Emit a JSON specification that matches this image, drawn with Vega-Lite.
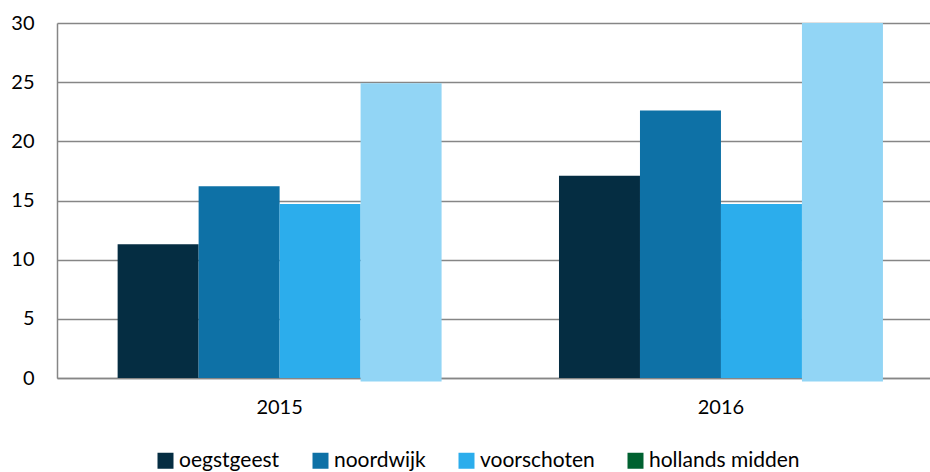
{
  "$schema": "https://vega.github.io/schema/vega-lite/v6.json",
  "width": 873,
  "height": 355,
  "autosize": {"type": "none"},
  "padding": {"left": 57, "top": 23, "right": 0, "bottom": 94},
  "background": "white",
  "config": {"view": {"stroke": null}, "font": "Lato"},
  "data": {
    "values": [
      {"year": "2015", "series": "oegstgeest", "value": 11.3, "base": 0},
      {"year": "2015", "series": "noordwijk", "value": 16.2, "base": 0},
      {"year": "2015", "series": "voorschoten", "value": 14.7, "base": 0},
      {"year": "2015", "series": "hollands midden", "value": 24.9, "base": -0.3},
      {"year": "2016", "series": "oegstgeest", "value": 17.1, "base": 0},
      {"year": "2016", "series": "noordwijk", "value": 22.6, "base": 0},
      {"year": "2016", "series": "voorschoten", "value": 14.7, "base": 0},
      {"year": "2016", "series": "hollands midden", "value": 30, "base": -0.3}
    ]
  },
  "encoding": {
    "x": {
      "field": "year",
      "type": "nominal",
      "scale": {"paddingInner": 0.266, "paddingOuter": 0.122, "align": 0.563},
      "axis": {
        "title": null,
        "labelAngle": 0,
        "ticks": false,
        "domainColor": "#868686",
        "domainWidth": 1.5,
        "labelFontSize": 20,
        "labelPadding": 19,
        "labelColor": "black"
      }
    },
    "xOffset": {
      "field": "series",
      "sort": ["oegstgeest", "noordwijk", "voorschoten", "hollands midden"],
      "scale": {"paddingInner": 0, "paddingOuter": 0}
    },
    "y": {
      "field": "value",
      "type": "quantitative",
      "scale": {"domain": [0, 30]},
      "axis": {
        "title": null,
        "values": [0, 5, 10, 15, 20, 25, 30],
        "grid": true,
        "gridColor": "#868686",
        "gridWidth": 1.5,
        "domain": true,
        "domainColor": "#868686",
        "domainWidth": 1.5,
        "ticks": false,
        "labelPadding": 23,
        "labelFontSize": 20,
        "labelColor": "black"
      }
    }
  },
  "layer": [
    {
      "mark": {"type": "bar"},
      "encoding": {
        "y2": {"field": "base"},
        "color": {
          "field": "series",
          "type": "nominal",
          "scale": {
            "domain": ["oegstgeest", "noordwijk", "voorschoten", "hollands midden"],
            "range": ["#052d42", "#0e71a6", "#2cadec", "#92d5f5"]
          },
          "legend": null
        }
      }
    },
    {
      "mark": {"type": "bar", "opacity": 0},
      "encoding": {
        "color": {
          "field": "series",
          "type": "nominal",
          "scale": {
            "domain": ["oegstgeest", "noordwijk", "voorschoten", "hollands midden"],
            "range": ["#052d42", "#0e71a6", "#2cadec", "#006130"]
          },
          "legend": {
            "orient": "none",
            "legendX": 98,
            "legendY": 427,
            "direction": "horizontal",
            "title": null,
            "symbolType": "square",
            "symbolSize": 256,
            "symbolOpacity": 1,
            "symbolStrokeWidth": 0,
            "labelFontSize": 21,
            "labelOffset": 3,
            "columnPadding": 30,
            "labelColor": "black"
          }
        }
      }
    }
  ],
  "resolve": {"scale": {"color": "independent"}}
}
